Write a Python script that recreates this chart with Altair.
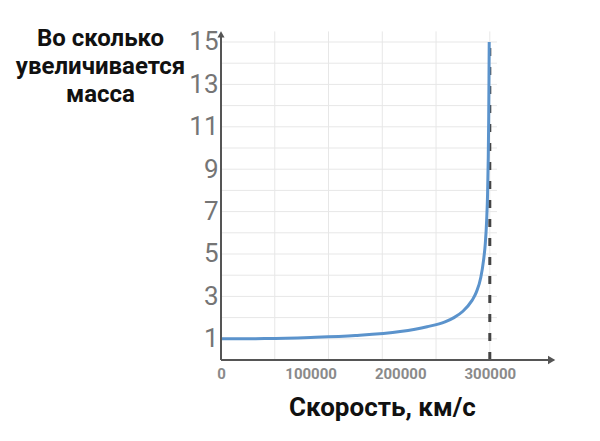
import altair as alt
import pandas as pd

# Values
speed = [0, 50000, 100000, 150000, 200000, 230000, 250000, 260000, 270000,
         280000, 285000, 290000, 293000, 295000, 296500, 297500, 298300,
         298800, 299100, 299350]
mass = [1.0, 1.01, 1.06, 1.15, 1.34, 1.57, 1.8, 2.0, 2.3, 2.8, 3.2, 3.9,
        4.7, 5.5, 6.6, 7.8, 9.6, 11.5, 13.3, 15.0]

x_ticks = [0, 100000, 200000, 300000]
y_ticks = [1, 3, 5, 7, 9, 11, 13, 15]
grid_x = [0, 60000, 120000, 180000, 240000, 300000]
grid_y = list(range(0, 16))
limit_speed = 300000
limit_top = 15

X_MAX = 375000
Y_MAX = 15.66
GRID_X_END = 308000
GRID_Y_END = 15.5

FONT = "Roboto, sans-serif"

curve = pd.DataFrame({"v": speed, "m": mass})

xs = alt.Scale(domain=[0, X_MAX], nice=False, zero=False)
ys = alt.Scale(domain=[0, Y_MAX], nice=False, zero=False)

x_axis = alt.Axis(
    values=x_ticks, format="d", domain=False, ticks=False, grid=False,
    labelFlush=False,
    labelFont=FONT, labelFontSize=15, labelFontWeight="bold",
    labelColor="#8a8a8a", labelPadding=6,
    title="Скорость, км/с", titleFont=FONT, titleFontSize=26,
    titleFontWeight="bold", titleColor="#111111",
    titleX=161, titleY=55, titleAlign="center", titleBaseline="alphabetic",
)
y_axis = alt.Axis(
    values=y_ticks, domain=False, ticks=False, grid=False,
    labelFlush=False,
    labelFont=FONT, labelFontSize=26, labelFontWeight="normal",
    labelColor="#757575", labelPadding=3,
    title=["Во сколько", "увеличивается", "масса"], titleFont=FONT,
    titleFontSize=24, titleFontWeight="bold", titleColor="#111111",
    titleAngle=0, titleX=-121, titleY=-2, titleAlign="center",
    titleBaseline="top", titleLineHeight=28,
)

hgrid = alt.Chart(pd.DataFrame({"y": grid_y, "x0": 0, "x1": GRID_X_END})).mark_rule(
    color="#e7e7e7", strokeWidth=1
).encode(
    x=alt.X("x0:Q", scale=xs, axis=x_axis),
    x2="x1:Q",
    y=alt.Y("y:Q", scale=ys, axis=y_axis),
)

vgrid = alt.Chart(pd.DataFrame({"x": grid_x, "y0": 0, "y1": GRID_Y_END})).mark_rule(
    color="#e7e7e7", strokeWidth=1
).encode(
    x=alt.X("x:Q", scale=xs),
    y=alt.Y("y0:Q", scale=ys),
    y2="y1:Q",
)

axes = pd.DataFrame({
    "x0": [0, 0], "x1": [X_MAX - 4000, 0],
    "y0": [0, 0], "y1": [0, Y_MAX - 0.25],
})
axis_lines = alt.Chart(axes).mark_rule(color="#555555", strokeWidth=2).encode(
    x=alt.X("x0:Q", scale=xs), x2="x1:Q",
    y=alt.Y("y0:Q", scale=ys), y2="y1:Q",
)

arrow_x = alt.Chart(pd.DataFrame({"x": [X_MAX - 6000], "y": [0]})).mark_point(
    shape="triangle-right", filled=True, color="#555555", size=70, opacity=1
).encode(x=alt.X("x:Q", scale=xs), y=alt.Y("y:Q", scale=ys))

arrow_y = alt.Chart(pd.DataFrame({"x": [0], "y": [Y_MAX - 0.3]})).mark_point(
    shape="triangle-up", filled=True, color="#555555", size=50, opacity=1
).encode(x=alt.X("x:Q", scale=xs), y=alt.Y("y:Q", scale=ys))

limit = alt.Chart(pd.DataFrame({"x": [limit_speed], "y0": [0], "y1": [limit_top]})).mark_rule(
    color="#444444", strokeWidth=3, strokeDash=[8, 11]
).encode(
    x=alt.X("x:Q", scale=xs),
    y=alt.Y("y0:Q", scale=ys), y2="y1:Q",
)

line = alt.Chart(curve).mark_line(
    color="#5b93cc", strokeWidth=3, interpolate="monotone"
).encode(
    x=alt.X("v:Q", scale=xs),
    y=alt.Y("m:Q", scale=ys),
)

chart = alt.layer(hgrid, vgrid, limit, line, axis_lines, arrow_x, arrow_y).properties(
    width=336, height=332,
    background="white",
    autosize=alt.AutoSizeParams(type="none"),
    padding={"left": 213, "top": 20, "right": 35, "bottom": 73},
).configure_view(stroke=None)

chart.save("out.html", embed_options={"renderer": "svg", "actions": False})
